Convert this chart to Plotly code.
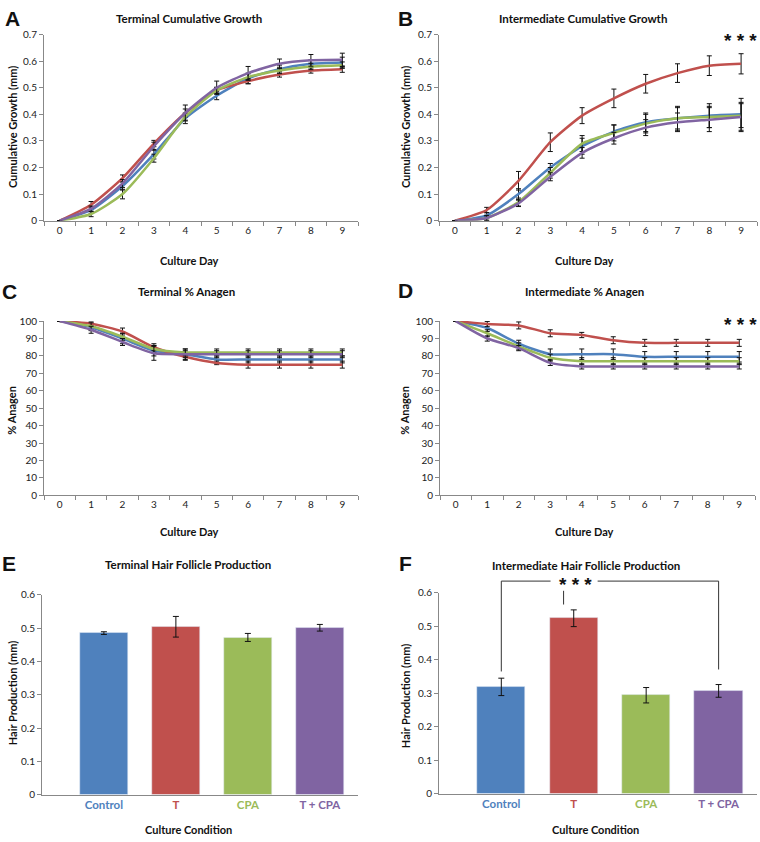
import plotly.graph_objects as go

days = [str(d) for d in range(10)]
conditions = ["Control", "T", "CPA", "T + CPA"]
colors = ["#4F81BD", "#C0504D", "#9BBB59", "#8064A2"]

# A - terminal cumulative growth (mm)
a_control = [0, 0.04, 0.13, 0.25, 0.385, 0.47, 0.535, 0.57, 0.59, 0.595]
a_t = [0, 0.06, 0.16, 0.29, 0.405, 0.49, 0.525, 0.55, 0.565, 0.57]
a_cpa = [0, 0.025, 0.10, 0.235, 0.39, 0.49, 0.54, 0.565, 0.58, 0.585]
a_tcpa = [0, 0.045, 0.14, 0.28, 0.405, 0.50, 0.555, 0.59, 0.603, 0.605]
a_control_err = [0, 0.012, 0.015, 0.018, 0.02, 0.015, 0.02, 0.015, 0.015, 0.02]
a_t_err = [0, 0.012, 0.012, 0.012, 0.015, 0.01, 0.01, 0.01, 0.01, 0.012]
a_cpa_err = [0, 0.01, 0.018, 0.015, 0.012, 0.012, 0.012, 0.012, 0.012, 0.012]
a_tcpa_err = [0, 0.01, 0.015, 0.015, 0.03, 0.025, 0.025, 0.018, 0.022, 0.025]

# B - intermediate cumulative growth (mm)
b_control = [0, 0.02, 0.10, 0.20, 0.28, 0.335, 0.37, 0.385, 0.395, 0.40]
b_t = [0, 0.04, 0.15, 0.295, 0.395, 0.46, 0.515, 0.555, 0.583, 0.59]
b_cpa = [0, 0.01, 0.07, 0.18, 0.29, 0.33, 0.365, 0.385, 0.39, 0.395]
b_tcpa = [0, 0.01, 0.065, 0.165, 0.255, 0.31, 0.35, 0.37, 0.38, 0.39]
b_control_err = [0, 0.01, 0.02, 0.015, 0.03, 0.025, 0.035, 0.045, 0.045, 0.06]
b_t_err = [0, 0.01, 0.035, 0.035, 0.03, 0.035, 0.035, 0.035, 0.037, 0.038]
b_cpa_err = [0, 0.01, 0.015, 0.02, 0.03, 0.03, 0.035, 0.04, 0.04, 0.045]
b_tcpa_err = [0, 0.008, 0.012, 0.015, 0.02, 0.022, 0.03, 0.035, 0.045, 0.055]

# C - terminal % anagen
c_control = [100, 96.5, 90, 83, 81, 78, 78, 78, 78, 78]
c_t = [100, 98.5, 94, 85, 79.5, 76, 75, 75, 75, 75]
c_cpa = [100, 97, 91, 84, 82, 82, 82, 82, 82, 82]
c_tcpa = [100, 95, 88, 81.5, 81, 81, 81, 81, 81, 81]
c_control_err = [0, 2, 3, 3, 3, 2, 2, 2, 2, 2]
c_t_err = [0, 1, 2, 2, 2, 1, 2, 2, 2, 2]
c_cpa_err = [0, 2, 2, 2, 2, 2, 2, 2, 2, 2]
c_tcpa_err = [0, 2, 2, 4, 2, 2, 2, 2, 2, 2]

# D - intermediate % anagen
d_control = [100, 96, 87, 81, 81, 81, 79.5, 79.5, 79.5, 79.5]
d_t = [100, 98.3, 97.5, 93, 92, 89, 87.5, 87.5, 87.5, 87.5]
d_cpa = [100, 93, 85.5, 79, 77, 77, 77, 77, 77, 77]
d_tcpa = [100, 90, 84.5, 76, 74, 74, 74, 74, 74, 74]
d_control_err = [0, 2, 2, 3, 3, 3, 3, 3, 3, 3]
d_t_err = [0, 1.5, 2, 2, 1.5, 2, 2, 2, 2, 2]
d_cpa_err = [0, 2, 2, 2, 2, 2, 2, 2, 2, 2]
d_tcpa_err = [0, 1.5, 1.5, 1.5, 1.5, 1.5, 1.5, 1.5, 1.5, 1.5]

# E / F - hair production (mm)
e_values = [0.485, 0.504, 0.472, 0.501]
e_err = [0.004, 0.031, 0.012, 0.01]
f_values = [0.319, 0.524, 0.294, 0.307]
f_err = [0.026, 0.025, 0.023, 0.019]

FONT = "Lato"
W, H = 760, 842

fig = go.Figure()

line_panels = [
    ("", [a_control, a_t, a_cpa, a_tcpa], [a_control_err, a_t_err, a_cpa_err, a_tcpa_err]),
    ("2", [b_control, b_t, b_cpa, b_tcpa], [b_control_err, b_t_err, b_cpa_err, b_tcpa_err]),
    ("3", [c_control, c_t, c_cpa, c_tcpa], [c_control_err, c_t_err, c_cpa_err, c_tcpa_err]),
    ("4", [d_control, d_t, d_cpa, d_tcpa], [d_control_err, d_t_err, d_cpa_err, d_tcpa_err]),
]
for ax, series, errs in line_panels:
    for name, col, vals, err in zip(conditions, colors, series, errs):
        fig.add_trace(go.Scatter(
            x=days, y=vals, name=name, mode="lines",
            line=dict(color=col, width=2.5, shape="spline", smoothing=0.6),
            error_y=dict(type="data", array=err, color="#111111", thickness=1, width=2.5),
            xaxis="x" + ax, yaxis="y" + ax, showlegend=False))

for ax, vals, err in [("5", e_values, e_err), ("6", f_values, f_err)]:
    fig.add_trace(go.Bar(
        x=list(range(len(conditions))), y=vals, marker_color=colors, width=0.667,
        error_y=dict(type="data", array=err, color="#111111", thickness=1, width=3),
        xaxis="x" + ax, yaxis="y" + ax, showlegend=False))


def px_x(a, b):
    return [a / W, b / W]


def px_y(top, bottom):
    return [1 - bottom / H, 1 - top / H]


tickfont = dict(family=FONT, size=10, color="#222222")
axcommon = dict(showline=True, linecolor="#888888", linewidth=1, showgrid=False,
                zeroline=False, ticks="outside", tickcolor="#888888", ticklen=4,
                tickfont=tickfont, fixedrange=True)

layout = dict(
    width=W, height=H, margin=dict(l=0, r=0, t=0, b=0),
    plot_bgcolor="white", paper_bgcolor="white", showlegend=False, bargap=0,
)

# line panels: (suffix, x px range, y px range, y range, dtick)
line_geo = [
    ("", (44, 358), (28, 217), [0, 0.7], 0.1),
    ("2", (439, 757), (28, 217), [0, 0.7], 0.1),
    ("3", (44, 358), (319, 496), [0, 100], 10),
    ("4", (440, 755), (319, 496), [0, 100], 10),
]
for ax, (x0, x1), (y0, y1), yr, dt in line_geo:
    layout["xaxis" + ax] = dict(axcommon, type="category", tickson="boundaries",
                                domain=px_x(x0, x1), anchor="y" + ax, range=[-0.5, 9.5])
    layout["yaxis" + ax] = dict(axcommon, domain=px_y(y0, y1), anchor="x" + ax,
                                range=yr, dtick=dt)

bar_ticks = ['<b><span style="color:%s">%s</span></b>' % (c, n) for c, n in zip(colors, conditions)]
bar_geo = [("5", (42, 358), (597, 800)), ("6", (439, 757), (595, 799))]
for ax, (x0, x1), (y0, y1) in bar_geo:
    layout["xaxis" + ax] = dict(axcommon, domain=px_x(x0, x1), anchor="y" + ax,
                                range=[-0.86, 3.53], ticks="", tickvals=list(range(4)),
                                ticktext=bar_ticks, tickfont=dict(family=FONT, size=11.5))
    layout["yaxis" + ax] = dict(axcommon, domain=px_y(y0, y1), anchor="x" + ax,
                                range=[0, 0.6], dtick=0.1)

fig.update_layout(**layout)

ann = []


def text(x, y, s, size=11.5, bold=True, angle=0, family=FONT, anchor="center"):
    ann.append(dict(x=x / W, y=1 - y / H, xref="paper", yref="paper", text=("<b>%s</b>" % s) if bold else s,
                    showarrow=False, textangle=angle, xanchor=anchor, yanchor="middle",
                    font=dict(family=family, size=size, color="#111111")))


# panel titles
text(189, 12, "Terminal Cumulative Growth")
text(583, 12, "Intermediate Cumulative Growth")
text(186, 289, "Terminal % Anagen")
text(584, 289, "Intermediate % Anagen")
text(188, 566, "Terminal Hair Follicle Production")
text(586, 567, "Intermediate Hair Follicle Production")

# panel letters
for lx, ly, lt in [(12, 12, "A"), (405, 12, "B"), (9, 289, "C"), (405, 288, "D"), (9, 565, "E"), (405, 565, "F")]:
    text(lx, ly, lt, size=21, family="Liberation Sans")

# axis titles
for xx, yy in [(189, 257), (584, 257), (189, 533), (584, 533)]:
    text(xx, yy, "Culture Day", size=11)
text(188, 835, "Culture Condition", size=11)
text(595, 835, "Culture Condition", size=11)
text(12, 122, "Cumulative Growth (mm)", size=11, angle=-90)
text(405, 122, "Cumulative Growth (mm)", size=11, angle=-90)
text(12, 410, "% Anagen", size=11, angle=-90)
text(405, 410, "% Anagen", size=11, angle=-90)
text(12, 697, "Hair Production (mm)", size=11, angle=-90)
text(405, 700, "Hair Production (mm)", size=11, angle=-90)

# significance stars
text(740, 34, "* * *", size=19, family="Liberation Sans")
text(740, 322, "* * *", size=19, family="Liberation Sans")
text(575, 587, "* * *", size=19, family="Liberation Sans")

fig.update_layout(annotations=ann)

# bracket for panel F: Control and T + CPA compared with T
lo, hi = 0, 3
ymax = 0.6
top = 0.635
bl = dict(color="#333333", width=1)
for x0, y0, x1, y1 in [(lo, f_values[0] + f_err[0] + 0.02, lo, top),
                       (hi, f_values[3] + f_err[3] + 0.045, hi, top),
                       (lo, top, 0.68, top), (1.33, top, hi, top),
                       (0.86, 0.565, 0.86, 0.606)]:
    fig.add_shape(type="line", x0=x0, y0=y0 / ymax, x1=x1, y1=y1 / ymax,
                  xref="x6", yref="y6 domain", line=bl)

# page body has a default margin; drop it so the figure sits at the window corner
fig.write_html("out.html", config={"displayModeBar": False},
               post_script="document.body.style.margin='0';document.body.style.overflow='hidden';")
